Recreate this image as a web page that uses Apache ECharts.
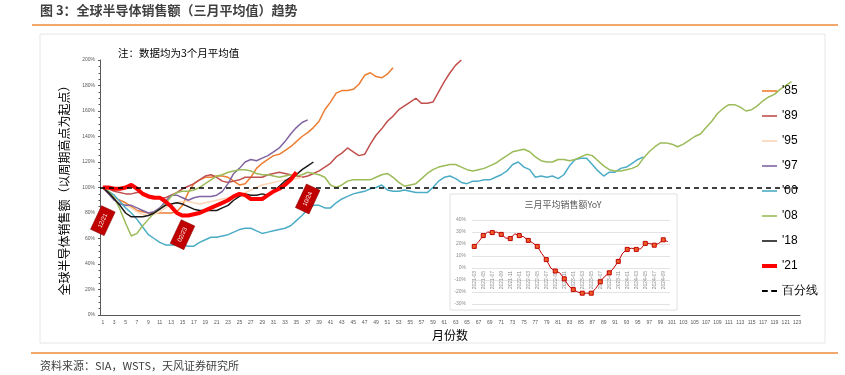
<!DOCTYPE html>
<html>
<head>
<meta charset="utf-8">
<script src="https://cdn.jsdelivr.net/npm/echarts@6/dist/echarts.min.js"></script>
<style>
html, body { margin: 0; padding: 0; background: #fff; }
#main { width: 845px; height: 375px; }
</style>
</head>
<body>
<div id="main"></div>
<script>
var myChart = echarts.init(document.getElementById('main'));

// 月份数 1..123
var months = [];
for (var m = 1; m <= 123; m++) {
    months.push(String(m));
}
var yTicks = [0, 200, 20];

// 各周期（以周期高点为起点，%）
var s85 = [100,95,92,90,88,85,82,81,80,80,80,80,80,81,86,96,103,106,108,108,109,109,108,105,102,103,108,115,119,122,125,126,129,132,136,140,143,147,152,161,167,174,176,176,177,181,188,190,187,186,189,194];
var s89 = [100,99,97,96,95,95,96,96,94,93,92,92,94,96,99,101,103,106,109,110,108,105,104,105,106,108,108,108,108,110,111,112,111,110,109,108,109,111,113,116,119,124,127,131,128,125,126,134,141,146,152,156,161,164,167,170,166,166,167,175,183,190,196,200];
var s95 = [100,96,92,89,86,84,81,79,78,79,81,84,87,88,89,89,88,87,88,89,90,91,92,93,94,96,98,100,102,103,104,105,106,106,107,108];
var s97 = [100,95,90,87,86,86,84,82,80,81,84,89,94,94,92,90,92,93,93,93,94,97,103,111,115,120,122,121,123,125,128,131,136,142,147,151,153];
var s00 = [100,97,94,89,84,80,75,69,63,60,57,55,55,55,55,54,54,57,59,61,61,62,63,65,67,68,68,66,64,65,66,67,68,70,74,78,83,86,86,84,84,88,91,93,95,96,97,99,100,102,98,97,97,98,97,96,96,96,100,105,108,109,107,104,103,105,105,106,106,108,110,113,118,120,116,114,108,109,108,109,107,110,117,122,123,123,118,113,109,112,112,115,116,119,122,124];
var s08 = [100,97,92,83,72,62,64,70,75,80,83,87,93,96,97,97,98,100,103,106,109,110,112,113,114,114,113,111,110,110,109,108,109,110,109,110,112,111,110,108,102,100,102,105,106,106,106,106,108,110,111,108,104,101,102,103,107,111,114,116,117,118,118,116,114,113,114,115,117,119,122,125,128,129,130,128,124,121,120,120,122,122,121,122,124,126,125,121,117,114,113,113,114,115,117,123,128,132,135,135,134,132,134,137,140,142,147,152,158,162,165,165,163,160,161,164,168,171,173,177,180,183];
var s18 = [100,96,91,86,80,77,77,77,78,80,83,86,87,88,87,85,83,82,82,82,82,84,86,90,93,95,94,94,95,94,97,101,105,108,110,114,117,120];
var s21 = [100,100,99,99,100,102,99,95,93,92,92,89,85,80,78,78,79,80,82,84,86,88,90,93,95,94,91,91,91,94,97,99,102,106,112];

var cycleNames = ["'85", "'89", "'95", "'97", "'00", "'08", "'18", "'21"];
var cycleData = [s85, s89, s95, s97, s00, s08, s18, s21];
var cycleColors = ['#ED7D31', '#C0504D', '#FCD5B5', '#8064A2', '#4BACC6', '#9BBB59', '#1A1A1A', '#FF0000'];

// 标注（月份数, 值, 文本）
var tagMonths = ['1', '15', '37'];
var tagValues = [74, 63, 91];
var tagTexts = ['12/21', '02/23', '10/24'];

// 小图：三月平均销售额YoY
var yoyMonths = ['2021-03','2021-04','2021-05','2021-06','2021-07','2021-08','2021-09','2021-10','2021-11','2021-12',
    '2022-01','2022-02','2022-03','2022-04','2022-05','2022-06','2022-07','2022-08','2022-09','2022-10','2022-11','2022-12',
    '2023-01','2023-02','2023-03','2023-04','2023-05','2023-06','2023-07','2023-08','2023-09','2023-10','2023-11','2023-12',
    '2024-01','2024-02','2024-03','2024-04','2024-05','2024-06','2024-07','2024-08','2024-09','2024-10'];
var yoyValues = [18,22,27,30,29.5,30,28,25,24.5,28.5,27,26,23,21,18,12,7,0,-2.5,-4,-9,-15,-18,-20,-21,-21,-21,-17,-11.5,-7,-4,0,5.5,12.5,15.5,16.5,15.5,16,20.5,20.5,19,20.5,23.5,22];
var yoyTicks = [-30, 40, 10];

var cjk = 'Noto Sans CJK SC';
var lineIcon = 'path://M0,0h15v1.6h-15z';
var thickIcon = 'path://M0,0h15v4h-15z';
var dashIcon = 'path://M0,0h5v1.6h-5z M8,0h5v1.6h-5z';

// 小图区域
var insetHeight = 84;
// x轴标签放在 0% 线下方
var insetZeroOffset = -insetHeight * (0 - yoyTicks[0]) / (yoyTicks[1] - yoyTicks[0]);

var series = cycleNames.map(function (n, i) {
    return {
        name: n,
        type: 'line',
        data: cycleData[i],
        symbol: 'none',
        lineStyle: { width: i == 7 ? 4 : 1.5, color: cycleColors[i] },
        itemStyle: { color: cycleColors[i] }
    };
});

series[7].markPoint = {
    symbol: 'rect',
    symbolSize: [26, 15],
    symbolRotate: 65,
    itemStyle: { color: '#C00000', borderColor: '#8B0000', borderWidth: 0.5 },
    label: { show: true, color: '#fff', fontSize: 6, rotate: 65, formatter: function (p) { return p.name; } },
    data: tagMonths.map(function (mm, i) {
        return { name: tagTexts[i], coord: [mm, tagValues[i]] };
    })
};

series.push({
    name: '百分线',
    type: 'line',
    data: [],
    symbol: 'none',
    lineStyle: { type: [5, 4], width: 1.5, color: '#000' },
    itemStyle: { color: '#000' },
    markLine: {
        silent: true,
        symbol: 'none',
        label: { show: false },
        lineStyle: { type: [5, 4], width: 1.5, color: '#000' },
        data: [{ yAxis: 100 }]
    }
});

series.push({
    name: 'YoY',
    type: 'line',
    xAxisIndex: 1,
    yAxisIndex: 1,
    data: yoyValues,
    symbol: 'rect',
    symbolSize: 4,
    lineStyle: { width: 1, color: '#C00000' },
    itemStyle: { color: '#F0602A', borderColor: '#C00000', borderWidth: 1 }
});

var legendData = cycleNames.map(function (n, i) {
    return { name: n, icon: i == 7 ? thickIcon : lineIcon };
});
legendData.push({ name: '百分线', icon: dashIcon });

var option = {
    animation: false,
    backgroundColor: '#fff',
    textStyle: { fontFamily: 'Liberation Sans' },
    legend: {
        orient: 'vertical',
        left: 757,
        top: 80,
        itemWidth: 15,
        itemHeight: 14,
        itemGap: 13,
        textStyle: { fontSize: 12, color: '#000', fontFamily: 'Liberation Sans' },
        data: legendData
    },
    grid: [
        { left: 100, right: 45, top: 60, bottom: 60 },
        { left: 472, top: 220, width: 198, height: insetHeight }
    ],
    xAxis: [{
        type: 'category',
        data: months,
        boundaryGap: true,
        name: '月份数',
        nameLocation: 'middle',
        nameGap: 12,
        nameTextStyle: { fontSize: 12, color: '#000', fontFamily: cjk },
        axisLine: { onZero: false, lineStyle: { color: '#595959', width: 1 } },
        axisTick: { interval: 0, length: 2, lineStyle: { color: '#595959' } },
        axisLabel: { interval: 1, fontSize: 5, color: '#595959', margin: 5 },
        splitLine: { show: false }
    }, {
        type: 'category',
        gridIndex: 1,
        data: yoyMonths,
        boundaryGap: true,
        position: 'bottom',
        offset: insetZeroOffset,
        axisLine: { show: false, onZero: false },
        axisTick: { show: false },
        axisLabel: { interval: 1, rotate: 90, fontSize: 5, color: '#8C8C8C', margin: 3 },
        splitLine: { show: false }
    }],
    yAxis: [{
        type: 'value',
        min: yTicks[0],
        max: yTicks[1],
        interval: yTicks[2],
        name: '全球半导体销售额（以周期高点为起点）',
        nameLocation: 'middle',
        nameGap: 30,
        nameTextStyle: { fontSize: 12, color: '#000', fontFamily: cjk },
        axisLine: { show: true, lineStyle: { color: '#595959', width: 1 } },
        axisTick: { show: true, length: 2, lineStyle: { color: '#595959' } },
        minorTick: { show: true, splitNumber: 4, length: 1.5, lineStyle: { color: '#595959' } },
        axisLabel: { fontSize: 5, color: '#595959', margin: 5, formatter: '{value}%' },
        splitLine: { show: false }
    }, {
        type: 'value',
        gridIndex: 1,
        min: yoyTicks[0],
        max: yoyTicks[1],
        interval: yoyTicks[2],
        axisLine: { show: false },
        axisTick: { show: false },
        axisLabel: { fontSize: 5, color: '#8C8C8C', margin: 6, formatter: '{value}%' },
        splitLine: { lineStyle: { color: '#E3E3E3', width: 1 } }
    }],
    graphic: [
        { type: 'text', left: 40, top: 4, style: { text: '图 3：全球半导体销售额（三月平均值）趋势', font: 'bold 13px "Noto Sans CJK SC"', fill: '#404040' } },
        { type: 'line', shape: { x1: 32, y1: 25, x2: 838, y2: 25 }, style: { stroke: '#EE8B3A', lineWidth: 1.5 } },
        { type: 'rect', shape: { x: 40, y: 34, width: 785, height: 309 }, style: { fill: 'none', stroke: '#E6E6E6', lineWidth: 1 } },
        { type: 'text', left: 118, top: 48, style: { text: '注：数据均为3个月平均值', font: '10.5px "Noto Sans CJK SC"', fill: '#000' } },
        { type: 'rect', shape: { x: 450, y: 194, width: 227, height: 116 }, style: { fill: '#fff', stroke: '#E0E0E0', lineWidth: 1 } },
        { type: 'text', x: 563, y: 205, style: { text: '三月平均销售额YoY', font: '9px "Noto Sans CJK SC"', fill: '#595959', textAlign: 'center', textVerticalAlign: 'middle' } },
        { type: 'line', shape: { x1: 31, y1: 353, x2: 838, y2: 353 }, style: { stroke: '#EE8B3A', lineWidth: 1.5 } },
        { type: 'text', left: 40, top: 360, style: { text: '资料来源：SIA，WSTS，天风证券研究所', font: '11px "Noto Sans CJK SC"', fill: '#404040' } }
    ],
    series: series
};

myChart.setOption(option);
</script>
</body>
</html>
